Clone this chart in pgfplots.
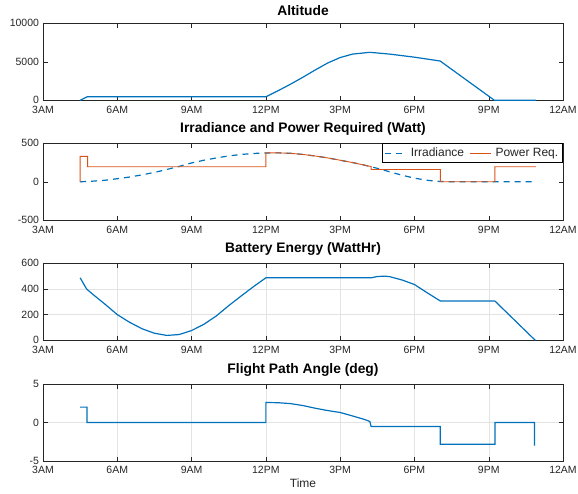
\documentclass[border=0pt]{standalone}
\usepackage{fontspec}
\setmainfont{Liberation Sans}
\usepackage{pgfplots}
\pgfplotsset{compat=1.18}

\definecolor{mblue}{rgb}{0,0.447,0.741}
\definecolor{morange}{rgb}{0.85,0.325,0.098}
\definecolor{maxis}{rgb}{0.15,0.15,0.15}

\pgfplotsset{
  panel/.style={
    scale only axis,
    width=520pt, height=77pt,
    anchor=south west,
    xmin=3, xmax=24,
    xtick={3,6,...,24},
    xticklabels={3AM,6AM,9AM,12PM,3PM,6PM,9PM,12AM},
    scaled y ticks=false,
    axis line style={maxis},
    every tick/.style={maxis},
    major tick length=4.5pt,
    tick align=inside,
    ticklabel style={font=\fontsize{10.5}{12}\selectfont, text=maxis},
    xticklabel style={yshift=-2pt},
    yticklabel style={xshift=-0.5pt},
    /pgf/number format/assume math mode=true,
    /pgf/number format/1000 sep={},
    title style={font=\fontsize{13.8}{15}\selectfont\bfseries, yshift=-2pt},
    label style={font=\fontsize{12}{14}\selectfont, text=maxis},
    grid style={gray!22},
  },
  mline/.style={mblue, line width=1.2pt},
}

\begin{document}
\begin{tikzpicture}
\path[use as bounding box] (-43pt,0pt) rectangle (535pt,493pt);

% Altitude
\begin{axis}[panel, at={(0pt,392.7pt)}, title={Altitude},
  ymin=0, ymax=10000, ytick={0,5000,10000}]
\addplot[mline] coordinates {
(4.5,0) (4.78,450) (12,450) (12.5,1250) (13,2100) (13.5,3000) (14,3950)
(14.5,4850) (15,5550) (15.5,6000) (16.2,6230) (17,6000) (18,5600)
(19.04,5100) (21.23,0) (22.9,0)};
\end{axis}

% Irradiance and power
\begin{axis}[panel, at={(0pt,272.7pt)}, title={Irradiance and Power Required (Watt)},
  ymin=-500, ymax=500, ytick={-500,0,500},
  legend columns=2,
  legend style={at={(1,1)}, anchor=north east, draw=black, line width=0.6pt,
    font=\fontsize{12}{13}\selectfont, text=maxis,
    /tikz/every odd column/.append style={column sep=2pt},
    /tikz/every even column/.append style={column sep=3pt},
    inner sep=2.5pt},
  legend image post style={line width=1pt},
  legend image code/.code={\draw[#1] (0cm,0cm) -- (0.75cm,0cm);}]
\addplot[mblue, line width=1.2pt, dash pattern=on 6pt off 5pt] coordinates {
(4.5,0) (5,8) (5.5,20) (6,40) (6.5,62) (7,90) (7.5,122) (8,160) (8.5,200)
(9,245) (9.5,280) (10,310) (10.5,336) (11,355) (11.5,368) (12,375)
(12.5,376) (13,370) (13.5,355) (14,335) (14.5,310) (15,280) (15.5,250)
(16,215) (16.5,175) (17,130) (17.5,85) (18,48) (18.5,20) (19,5) (19.5,0)
(22.9,0)};
\addlegendentry{Irradiance}
\addplot[morange, line width=0.9pt] coordinates {
(4.5,0) (4.5,330) (4.8,330) (4.8,195) (12,195) (12,375) (12.5,376)
(13,370) (13.5,355) (14,335) (14.5,310) (15,280) (15.5,250) (16,215)
(16.25,198) (16.25,160) (19.05,160) (19.05,0) (21.25,0) (21.25,195)
(22.9,195)};
\addlegendentry{Power Req.}
\end{axis}

% Battery
\begin{axis}[panel, at={(0pt,152.7pt)}, title={Battery Energy (WattHr)},
  ymin=0, ymax=600, ytick={0,200,400,600}, grid=major]
\addplot[mline] coordinates {
(4.5,487) (4.76,400) (5,360) (5.5,282) (6,200) (6.5,140) (7,90) (7.5,55)
(8,38) (8.5,45) (9,76) (9.5,125) (10,190) (10.5,270) (11,345) (11.5,418)
(12,487) (16.25,487) (16.5,497) (16.8,500) (17,496) (17.5,470) (18,435)
(18.5,372) (19.05,306) (21.25,306) (22.88,0)};
\end{axis}

% Flight path angle
\begin{axis}[panel, at={(0pt,32pt)}, title={Flight Path Angle (deg)},
  ymin=-5, ymax=5, ytick={-5,0,5}, grid=major, xlabel={Time},
  xlabel style={yshift=2pt}]
\addplot[mline] coordinates {
(4.5,2) (4.78,2) (4.78,0) (12,0) (12,2.6) (12.5,2.57) (13,2.45)
(13.5,2.2) (14,1.85) (14.5,1.55) (15,1.3) (15.5,0.85) (16,0.38)
(16.2,0.13) (16.25,-0.52) (19.04,-0.52) (19.04,-2.83) (21.25,-2.83)
(21.25,0) (22.85,0) (22.85,-3)};
\end{axis}
\end{tikzpicture}
\end{document}
